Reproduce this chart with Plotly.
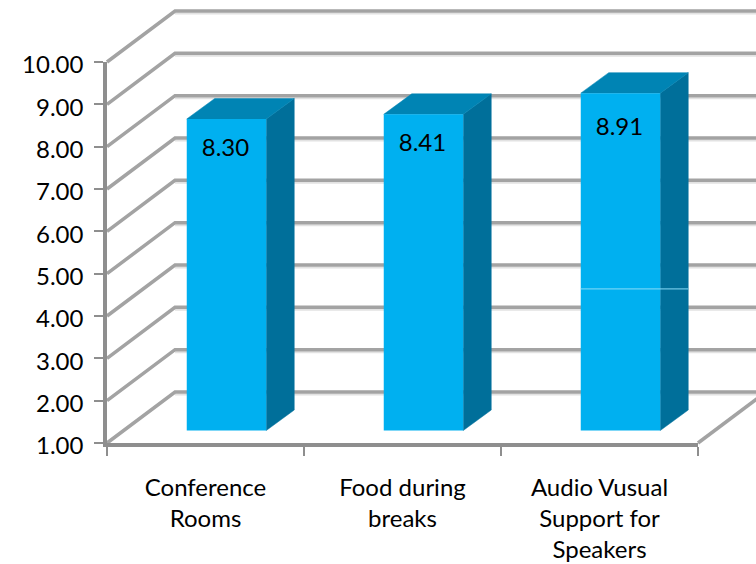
import plotly.graph_objects as go

categories = ["Conference<br>Rooms", "Food during<br>breaks", "Audio Vusual<br>Support for<br>Speakers"]
values = [8.30, 8.41, 8.91]
y_ticks = [1, 2, 3, 4, 5, 6, 7, 8, 9, 10]
label_nudge = [0.39, 0.37, 0.49]
seam_value = 4.64

W, H = 756, 564
L, R, T, B = 107, 698, 62, 443
ux = (R - L) / 3            # px per category
uy = (B - T) / 9            # px per value unit
FONT = "Lato"
FS = 24

# depth offsets, in axis units
wall_dx, wall_dy = 68 / ux, 51 / uy
bar_dx = 21 / ux
bar_base_dy, bar_top_dy = 12.5 / uy, 15 / uy
side_dx, side_dy = 28 / ux, 20.5 / uy
bar_w = 79.5 / ux
x_end = (W + 20 - L) / ux

GRID = "#A3A3A3"
SHADOW = "#E2E2E2"
AXIS = "#8E8E8E"
FRONT = "#00B0F0"
SIDE = "#006F9A"
TOP = "#0084B4"
SEAM = "#8ADCF8"

fig = go.Figure()


def line(xs, ys, color, width):
    fig.add_trace(go.Scatter(x=xs, y=ys, mode="lines", hoverinfo="skip",
                             line=dict(color=color, width=width), showlegend=False))


def poly(xs, ys, color):
    fig.add_trace(go.Scatter(x=xs, y=ys, mode="lines", fill="toself", fillcolor=color,
                             hoverinfo="skip", line=dict(color=color, width=0.5), showlegend=False))


# wall and floor, on the full-page axes beneath the bars
for v in y_ticks:
    line([wall_dx, x_end], [v + wall_dy - 2.5 / uy] * 2, SHADOW, 2)
for v in y_ticks:
    line([0, wall_dx, x_end], [v, v + wall_dy, v + wall_dy], GRID, 3.5)
line([3, 3 + wall_dx], [1, 1 + wall_dy], GRID, 3.5)

# bars: side and top faces
for i, v in enumerate(values):
    x0 = i + 0.5 + bar_dx - bar_w / 2
    x1 = x0 + bar_w
    y0 = 1 + bar_base_dy
    y1 = v + bar_top_dy
    poly([x1, x1 + side_dx, x1 + side_dx, x1, x1], [y0, y0 + side_dy, y1 + side_dy, y1, y0], SIDE)
    poly([x0, x0 + side_dx, x1 + side_dx, x1, x0], [y1, y1 + side_dy, y1 + side_dy, y1, y1], TOP)

# bar fronts and labels, on the axes that carry the ticks
fig.add_trace(go.Bar(
    x=[i + 0.5 + bar_dx for i in range(3)],
    y=[v - 1 + bar_top_dy - bar_base_dy for v in values],
    base=1 + bar_base_dy,
    width=bar_w,
    marker=dict(color=FRONT, line=dict(width=0)),
    cliponaxis=False,
    hoverinfo="skip",
    showlegend=False,
    xaxis="x2", yaxis="y2",
))

# thin light seam across the third bar
fig.add_trace(go.Scatter(
    x=[2.5 + bar_dx - bar_w / 2, 2.5 + bar_dx + bar_w / 2 + side_dx],
    y=[seam_value, seam_value],
    mode="lines",
    line=dict(color=SEAM, width=1),
    cliponaxis=False,
    hoverinfo="skip",
    showlegend=False,
    xaxis="x2", yaxis="y2",
))

fig.add_trace(go.Scatter(
    x=[i + 0.5 + bar_dx - 1 / ux for i in range(3)],
    y=[v - n for v, n in zip(values, label_nudge)],
    mode="text",
    text=[f"{v:.2f}" for v in values],
    textposition="middle center",
    textfont=dict(family=FONT, size=FS, color="#000000"),
    cliponaxis=False,
    hoverinfo="skip",
    showlegend=False,
    xaxis="x2", yaxis="y2",
))

fig.update_layout(
    width=W, height=H,
    margin=dict(l=0, r=0, t=0, b=0),
    paper_bgcolor="#FFFFFF", plot_bgcolor="rgba(0,0,0,0)",
    font=dict(family=FONT, size=FS, color="#000000"),
    showlegend=False,
    barmode="overlay",
    xaxis=dict(domain=[0, 1], range=[-L / ux, (W - L) / ux], visible=False, automargin=False),
    yaxis=dict(domain=[0, 1], range=[1 - (H - B) / uy, 1 + B / uy], visible=False, automargin=False),
    xaxis2=dict(
        domain=[L / W, R / W], range=[0, 3], anchor="y2", automargin=False,
        tickmode="array", tickvals=[0.5, 1.5, 2.5], ticktext=categories,
        ticks="", showgrid=False, zeroline=False,
        showline=True, linecolor=AXIS, linewidth=3.5,
        ticklabelstandoff=20, tickangle=0,
        minor=dict(tickmode="array", tickvals=[0, 1, 2, 3], ticks="outside",
                   ticklen=9, tickwidth=2, tickcolor=AXIS, showgrid=False),
    ),
    yaxis2=dict(
        domain=[1 - B / H, 1 - T / H], range=[1, 10], anchor="x2", automargin=False,
        tickmode="array", tickvals=y_ticks, tickformat=".2f",
        ticks="outside", ticklen=9, tickwidth=2, tickcolor=AXIS,
        showgrid=False, zeroline=False,
        showline=True, linecolor=AXIS, linewidth=3.5,
        ticklabelstandoff=6, ticklabelshift=3,
    ),
)

fig.write_html("out.html", config={"displayModeBar": False},
               post_script="document.body.style.margin='0';")
